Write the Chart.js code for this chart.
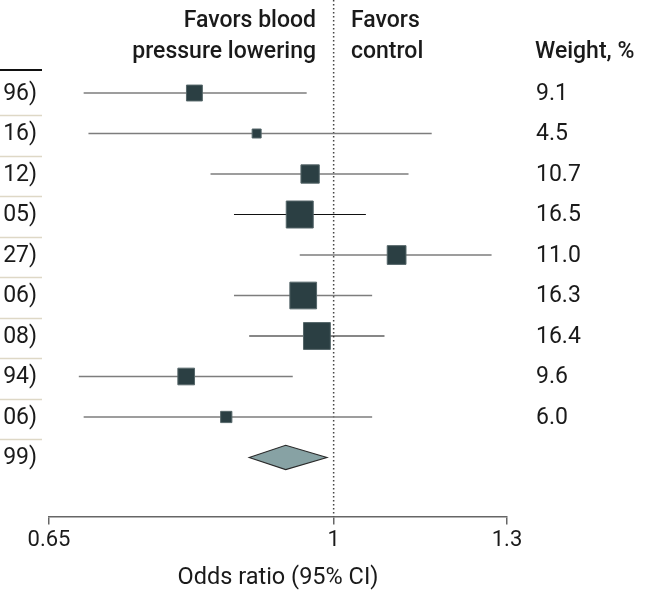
<!DOCTYPE html>
<html><head><meta charset="utf-8">
<script src="https://cdn.jsdelivr.net/npm/chart.js@4.4.1/dist/chart.umd.min.js"></script>
<style>html,body{margin:0;padding:0;background:#fff;}canvas{display:block;}</style>
</head><body>
<canvas id="c" width="654" height="594"></canvas>
<script>
// ---- data ----
const rowLabelTails = ["96)", "16)", "12)", "05)", "27)", "06)", "08)", "94)", "06)"];
const pooledLabelTail = "99)";
const oddsRatio = [0.81, 0.89, 0.965, 0.95, 1.10, 0.955, 0.975, 0.80, 0.85];
const ciLower   = [0.685, 0.69, 0.83, 0.86, 0.95, 0.86, 0.88, 0.68, 0.685];
const ciUpper   = [0.96, 1.16, 1.12, 1.05, 1.27, 1.06, 1.08, 0.94, 1.06];
const weights   = [9.1, 4.5, 10.7, 16.5, 11.0, 16.3, 16.4, 9.6, 6.0];
const weightLabels = ["9.1", "4.5", "10.7", "16.5", "11.0", "16.3", "16.4", "9.6", "6.0"];
const pooledOR = 0.93, pooledLower = 0.88, pooledUpper = 0.99;
const xTickValues = [0.65, 1, 1.3];
const headerLeft = ["Favors blood", "pressure lowering"];
const headerRight = ["Favors", "control"];
const weightHeader = "Weight, %";
const axisTitle = "Odds ratio (95% CI)";

// ---- styles ----
const FONT = "Roboto, 'Open Sans', sans-serif";
const squareColor = "#2b3f43";
const darkLineRows = [3, 6];

const rowPos = oddsRatio.map((_, i) => i + 1);
const pooledPos = oddsRatio.length + 1;

const ciDatasets = oddsRatio.map((_, i) => ({
  type: 'scatter',
  showLine: true,
  data: [{x: ciLower[i], y: rowPos[i]}, {x: ciUpper[i], y: rowPos[i]}],
  borderColor: darkLineRows.includes(i) ? '#111111' : '#7d7d7d',
  borderWidth: darkLineRows.includes(i) ? 1.2 : 1.6,
  pointRadius: 0,
  order: 2
}));

const squareDataset = {
  type: 'scatter',
  data: oddsRatio.map((v, i) => ({x: v, y: rowPos[i]})),
  pointStyle: 'rect',
  pointRadius: weights.map(w => (3.25 + 1.5 * w - 1) / Math.SQRT2),
  pointHoverRadius: weights.map(w => (3.25 + 1.5 * w - 1) / Math.SQRT2),
  backgroundColor: squareColor,
  borderColor: '#56676a',
  borderWidth: 1,
  order: 0
};

const decor = {
  id: 'decor',
  beforeDatasetsDraw(chart) {
    const {ctx, chartArea} = chart;
    const xs = chart.scales.x;
    const x1 = xs.getPixelForValue(1);
    ctx.save();
    ctx.strokeStyle = '#444';
    ctx.lineWidth = 1.5;
    ctx.setLineDash([1.5, 2.5]);
    ctx.beginPath();
    ctx.moveTo(x1, 0);
    ctx.lineTo(x1, chartArea.bottom);
    ctx.stroke();
    ctx.restore();
  },
  afterDatasetsDraw(chart) {
    const {ctx} = chart;
    const xs = chart.scales.x, ys = chart.scales.y;
    ctx.save();
    // pooled diamond
    const yc = ys.getPixelForValue(pooledPos);
    const half = ys.getPixelForValue(pooledPos + 0.3) - yc;
    ctx.beginPath();
    ctx.moveTo(xs.getPixelForValue(pooledLower), yc);
    ctx.lineTo(xs.getPixelForValue(pooledOR), yc - half);
    ctx.lineTo(xs.getPixelForValue(pooledUpper), yc);
    ctx.lineTo(xs.getPixelForValue(pooledOR), yc + half);
    ctx.closePath();
    ctx.fillStyle = '#87a2a4';
    ctx.fill();
    ctx.strokeStyle = '#2a2a2a';
    ctx.lineWidth = 1.1;
    ctx.stroke();

    // headers
    ctx.fillStyle = '#1a1a1a';
    ctx.font = "500 23px " + FONT;
    ctx.textBaseline = 'alphabetic';
    ctx.textAlign = 'right';
    ctx.fillText(headerLeft[0], 316, 27);
    ctx.fillText(headerLeft[1], 316, 58);
    ctx.textAlign = 'left';
    ctx.fillText(headerRight[0], 351, 27);
    ctx.fillText(headerRight[1], 351, 58);
    ctx.fillText(weightHeader, 535, 58);

    // left column tails
    ctx.font = "400 23px " + FONT;
    ctx.textBaseline = 'middle';
    const tails = rowLabelTails.concat([pooledLabelTail]);
    tails.forEach((t, i) => {
      ctx.textAlign = 'right';
      ctx.fillText(t, 37, ys.getPixelForValue(i + 1) + 1);
    });
    // weights
    ctx.textAlign = 'left';
    weightLabels.forEach((t, i) => {
      ctx.fillText(t, 536, ys.getPixelForValue(rowPos[i]) + 1);
    });
    // separators
    ctx.strokeStyle = '#ded8c6';
    ctx.lineWidth = 1.5;
    for (let i = 1; i < pooledPos; i++) {
      const y = Math.round(ys.getPixelForValue(i + 0.5) + 2) + 0.5;
      ctx.beginPath(); ctx.moveTo(0, y); ctx.lineTo(42, y); ctx.stroke();
    }
    ctx.strokeStyle = '#111';
    ctx.lineWidth = 2;
    const yTop = 70;
    ctx.beginPath(); ctx.moveTo(0, yTop); ctx.lineTo(42, yTop); ctx.stroke();
    ctx.restore();
  }
};

new Chart(document.getElementById('c'), {
  type: 'scatter',
  data: {datasets: [squareDataset, ...ciDatasets]},
  options: {
    responsive: false,
    animation: false,
    devicePixelRatio: 1,
    layout: {autoPadding: false, padding: {left: 49, right: 147, top: 0, bottom: 0}},
    plugins: {legend: {display: false}, tooltip: {enabled: false}},
    scales: {
      x: {
        type: 'logarithmic',
        min: 0.65, max: 1.3,
        afterBuildTicks: s => { s.ticks = xTickValues.map(v => ({value: v})); },
        ticks: {
          font: {family: FONT, size: 22},
          color: '#1a1a1a',
          padding: 3,
          maxRotation: 0,
          callback: v => String(v)
        },
        grid: {drawOnChartArea: false, drawTicks: true, tickLength: 8, color: '#666', lineWidth: 1.5},
        border: {display: true, color: '#666', width: 1.5},
        title: {display: true, text: axisTitle, font: {family: FONT, size: 23.5}, color: '#1a1a1a', padding: {top: 7, bottom: 2}}
      },
      y: {
        type: 'linear',
        display: false,
        reverse: true,
        min: -1.297, max: 11.455
      }
    }
  },
  plugins: [decor]
});
</script>
</body></html>
